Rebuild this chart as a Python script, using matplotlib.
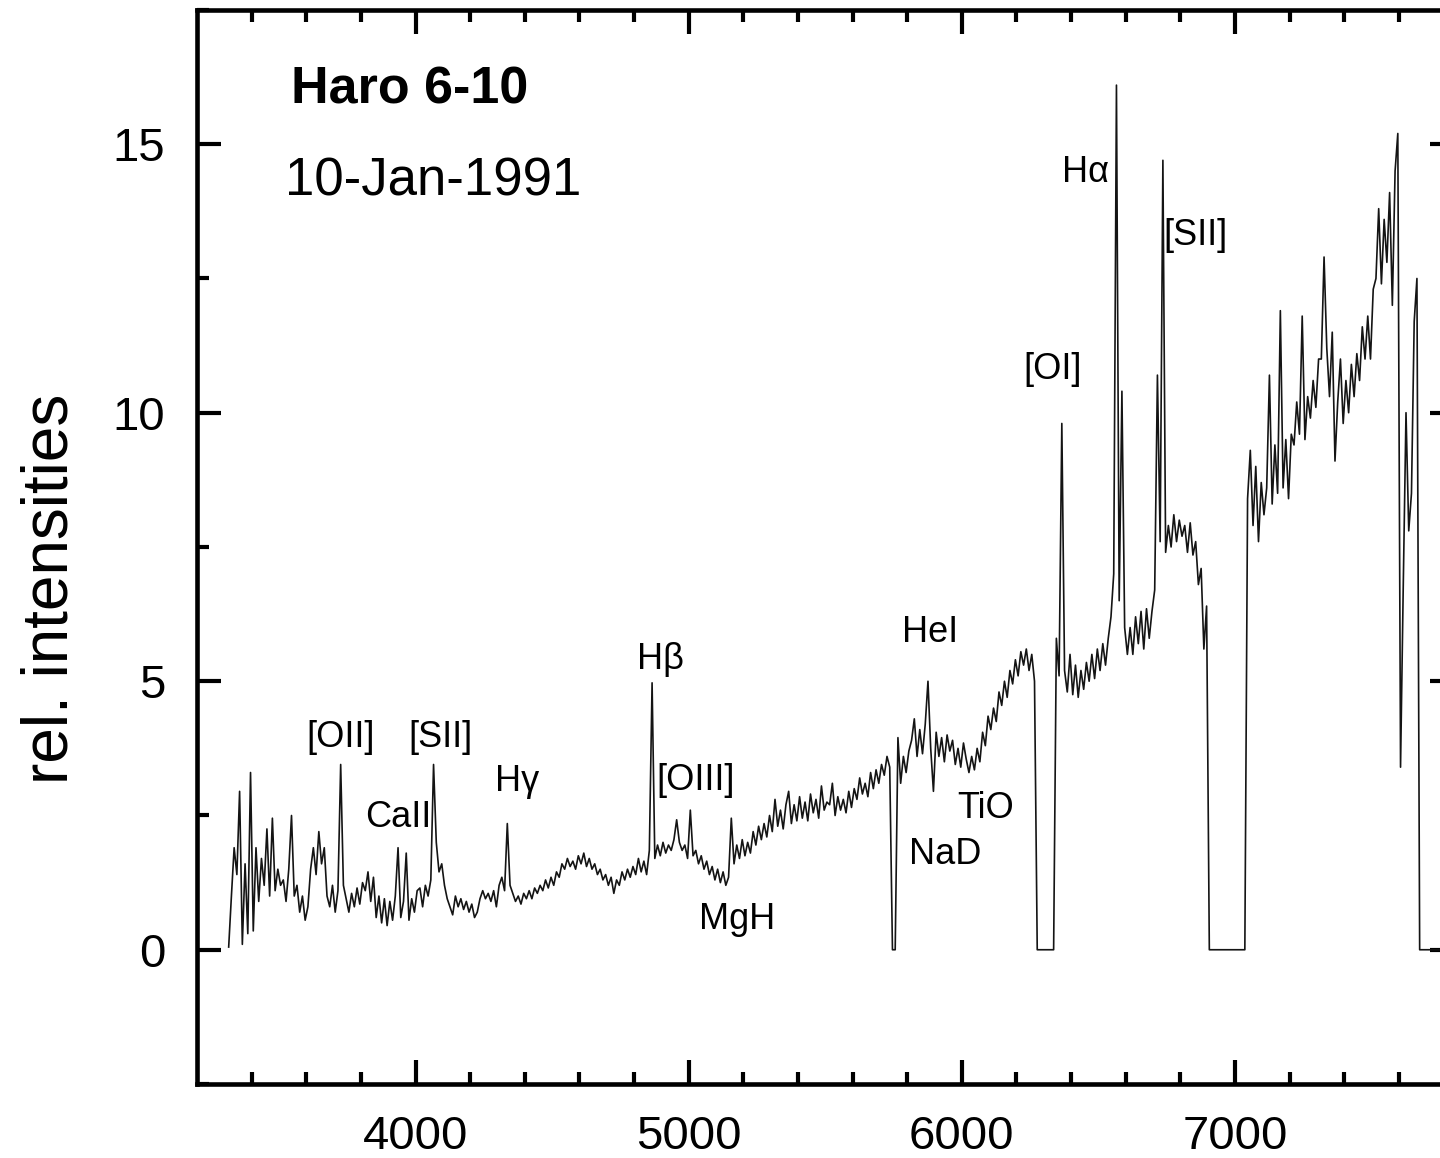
import numpy as np
import matplotlib.pyplot as plt

plt.rcParams["font.family"] = ["Liberation Sans", "DejaVu Sans"]

# relative intensities, sampled every 10 A starting at 3316 A
wave_start = 3316
wave_step = 10
flux = [
    0.05, 1.0, 1.9, 1.4, 2.95, 0.1, 1.6, 0.3, 3.3, 0.35,        # 3316
    1.9, 0.9, 1.7, 1.2, 2.25, 1.0, 2.45, 1.1, 1.5, 1.2,         # 3416
    1.3, 0.9, 1.5, 2.5, 1.0, 1.2, 0.7, 1.0, 0.55, 0.8,          # 3516
    1.5, 1.9, 1.4, 2.2, 1.6, 1.9, 1.0, 0.8, 1.2, 0.7,           # 3616
    1.1, 3.45, 1.2, 0.95, 0.7, 1.05, 0.8, 1.15, 0.85, 1.25,     # 3716
    1.1, 1.45, 0.9, 1.35, 0.6, 1.0, 0.5, 0.95, 0.45, 0.9,       # 3816
    0.55, 1.0, 1.9, 0.6, 0.9, 1.8, 0.55, 0.95, 0.7, 1.1,        # 3916
    1.15, 0.8, 1.2, 1.0, 1.3, 3.45, 2.0, 1.45, 1.6, 1.2,        # 4016
    0.95, 0.8, 0.65, 1.0, 0.8, 0.95, 0.75, 0.9, 0.7, 0.85,      # 4116
    0.6, 0.7, 0.95, 1.1, 0.95, 1.05, 0.9, 1.1, 0.8, 1.2,        # 4216
    1.35, 1.1, 2.35, 1.2, 1.05, 0.9, 1.0, 0.85, 1.05, 0.95,     # 4316
    1.1, 0.95, 1.15, 1.05, 1.2, 1.1, 1.3, 1.15, 1.35, 1.2,      # 4416
    1.45, 1.35, 1.6, 1.5, 1.7, 1.55, 1.65, 1.5, 1.75, 1.6,      # 4516
    1.8, 1.55, 1.7, 1.5, 1.6, 1.4, 1.5, 1.3, 1.4, 1.2,          # 4616
    1.35, 1.05, 1.3, 1.2, 1.45, 1.3, 1.5, 1.35, 1.55, 1.4,      # 4716
    1.7, 1.45, 1.65, 1.4, 1.85, 4.97, 1.7, 1.95, 1.75, 2.0,     # 4816
    1.8, 1.95, 1.85, 2.05, 2.42, 2.0, 1.85, 1.95, 1.7, 2.6,     # 4916
    1.75, 1.85, 1.6, 1.75, 1.5, 1.65, 1.4, 1.55, 1.3, 1.5,      # 5016
    1.25, 1.45, 1.2, 1.35, 2.45, 1.6, 1.95, 1.7, 2.05, 1.75,    # 5116
    2.0, 1.8, 2.2, 1.95, 2.3, 2.05, 2.35, 2.1, 2.5, 2.2,        # 5216
    2.8, 2.3, 2.6, 2.25, 2.7, 2.95, 2.35, 2.7, 2.4, 2.85,       # 5316
    2.45, 2.75, 2.4, 2.9, 2.55, 2.8, 2.45, 3.05, 2.6, 2.75,     # 5416
    2.7, 3.1, 2.5, 2.85, 2.6, 2.8, 2.55, 2.95, 2.65, 3.0,       # 5516
    2.8, 3.2, 2.9, 3.1, 2.85, 3.3, 3.0, 3.35, 3.1, 3.45,        # 5616
    3.25, 3.6, 3.4, 0.0, 0.0, 3.95, 3.1, 3.6, 3.3, 3.7,         # 5716
    3.9, 4.3, 3.6, 4.1, 3.65, 4.2, 5.0, 3.75, 2.95, 4.05,       # 5816
    3.6, 3.95, 3.5, 4.0, 3.7, 3.9, 3.45, 3.75, 3.4, 3.85,       # 5916
    3.55, 3.3, 3.6, 3.35, 3.75, 3.5, 4.05, 3.8, 4.35, 4.1,      # 6016
    4.5, 4.25, 4.8, 4.55, 5.0, 4.7, 5.2, 4.95, 5.4, 5.1,        # 6116
    5.55, 5.3, 5.6, 5.2, 5.5, 5.0, 0.0, 0.0, 0.0, 0.0,          # 6216
    0.0, 0.0, 0.0, 5.8, 5.1, 9.8, 5.2, 4.8, 5.5, 4.75,          # 6316
    5.3, 4.7, 5.2, 4.85, 5.35, 5.0, 5.5, 5.05, 5.6, 5.2,        # 6416
    5.7, 5.3, 5.8, 6.2, 7.0, 16.1, 6.5, 10.4, 6.0, 5.5,         # 6516
    6.0, 5.5, 6.2, 5.7, 6.3, 5.6, 6.35, 5.8, 6.3, 6.7,          # 6616
    10.7, 7.6, 14.7, 7.4, 7.9, 7.5, 8.1, 7.6, 8.0, 7.7,         # 6716
    7.9, 7.4, 7.95, 7.35, 7.6, 6.8, 7.1, 5.6, 6.4, 0.0,         # 6816
    0.0, 0.0, 0.0, 0.0, 0.0, 0.0, 0.0, 0.0, 0.0, 0.0,           # 6916
    0.0, 0.0, 0.0, 8.4, 9.3, 7.9, 9.0, 7.6, 8.7, 8.1,           # 7016
    8.6, 10.7, 8.3, 9.4, 8.5, 11.9, 8.6, 9.5, 8.4, 9.6,         # 7116
    9.4, 10.2, 9.6, 11.8, 9.5, 10.3, 9.9, 10.6, 10.1, 11.0,     # 7216
    11.0, 12.9, 11.2, 10.3, 11.5, 9.1, 10.2, 11.0, 9.8, 10.6,   # 7316
    10.0, 10.9, 10.3, 11.1, 10.6, 11.6, 11.0, 11.8, 11.0, 12.3, # 7416
    12.5, 13.8, 12.4, 13.6, 12.8, 14.1, 12.0, 14.5, 15.2, 3.4,  # 7516
    6.8, 10.0, 7.8, 8.5, 11.7, 12.5, 0.0, 0.0, 0.0, 0.0,        # 7616
    0.0, 0.0, 0.0, 0.0, 0.0, 0.0, 0.0, 0.0, 0.0,                # 7716
]
wavelength = wave_start + wave_step * np.arange(len(flux))

# line identifications: name, wavelength of label centre, baseline height
line_labels = [
    ("[OII]", 3726, 3.78),
    ("[SII]", 4091, 3.78),
    ("CaII", 3938, 2.29),
    ("H\u03b3", 4373, 2.96),
    ("H\u03b2", 4896, 5.23),
    ("[OIII]", 5025, 2.98),
    ("MgH", 5178, 0.39),
    ("HeI", 5884, 5.73),
    ("NaD", 5939, 1.60),
    ("TiO", 6086, 2.46),
    ("[OI]", 6331, 10.63),
    ("H\u03b1", 6452, 14.29),
    ("[SII]", 6854, 13.12),
]

fig = plt.figure(figsize=(14.4, 11.58), dpi=100)
ax = fig.add_axes([0.1368, 0.0639, 0.8726, 0.9275])

ax.plot(wavelength, flux, color="#141414", linewidth=1.2)

for name, x, y in line_labels:
    ax.text(x, y, name, fontsize=26, ha="center", va="baseline")

ax.text(3543, 15.76, "Haro 6-10", fontsize=37.5, fontweight="bold", ha="left", va="baseline")
ax.text(3524, 14.05, "10-Jan-1991", fontsize=38, ha="left", va="baseline")

ax.set_xlim(3200, 7800)
ax.set_ylim(-2.5, 17.5)
ax.set_xticks([4000, 5000, 6000, 7000])
ax.set_xticks(np.arange(3400, 7800, 200), minor=True)
ax.set_yticks([0, 5, 10, 15])
ax.set_yticks([-2.5, 2.5, 7.5, 12.5, 17.5], minor=True)

ax.tick_params(which="both", direction="in", top=True, right=True, width=3.0)
ax.tick_params(which="major", length=17, labelsize=34)
ax.tick_params(which="minor", length=8.6)
ax.tick_params(axis="x", which="major", pad=22)
ax.tick_params(axis="y", which="major", pad=23)
for spine in ax.spines.values():
    spine.set_linewidth(3.3)

fig.text(0.0354, 0.4914, "rel. intensities", fontsize=46, rotation=90,
         ha="center", va="center")

fig.savefig("out.png", dpi=100)
